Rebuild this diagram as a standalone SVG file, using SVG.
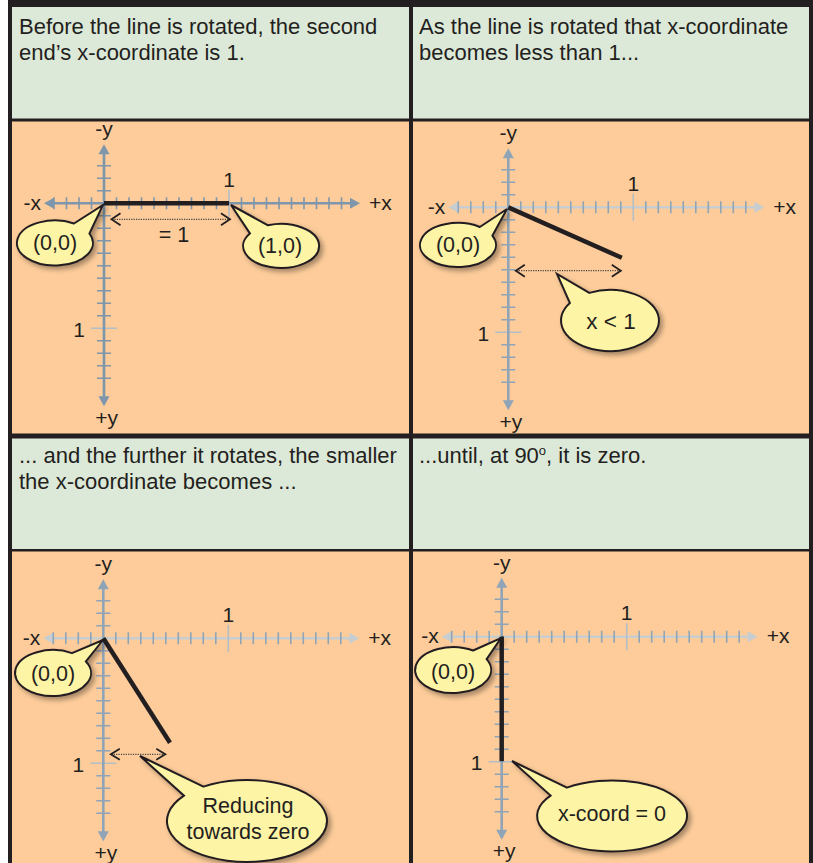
<svg xmlns="http://www.w3.org/2000/svg" xmlns:xlink="http://www.w3.org/1999/xlink" width="813" height="863" viewBox="0 0 813 863">
<style>
text{font-family:"Liberation Sans",Arial,sans-serif;fill:#231f20}
.hd{font-size:22px}
.ax{font-size:21px}
.cl{font-size:21.5px;text-anchor:middle}
.green{fill:#dde9d8}
.orange{fill:#fdcc9a}
.callout{fill:#fef4a6;stroke:#231f20;stroke-width:2;filter:url(#sh)}
.bar{stroke:#231f20;stroke-width:4.5;fill:none}
.dot{stroke:#444;stroke-width:1.2;stroke-dasharray:1.2 1.2;fill:none}
.chev{stroke:#231f20;stroke-width:1.8;fill:none}
.aA{stroke:#7e96ab;stroke-width:1.6;fill:none}
.aAline{stroke:#7e96ab;stroke-width:2.6;fill:none}
.aAhead{fill:#7e96ab}
.maj{stroke:#b3bec6;stroke-width:1.6;fill:none}
.xB{stroke:#c6ced1;stroke-width:2.6;fill:none}
.xBhead{fill:#c6ced1}
.tB{stroke:#8fa4b7;stroke-width:1.6;fill:none}
.yB{stroke:#8fa4b7;stroke-width:2.6;fill:none}
.yBhead{fill:#8fa4b7}
</style>
<defs>
<filter id="sh" x="-20%" y="-20%" width="150%" height="160%">
<feDropShadow dx="3" dy="3" stdDeviation="2.5" flood-color="#000" flood-opacity="0.35"/>
</filter>
<path id="xt" d="M-50,-6v12m12.5,-12v12m12.5,-12v12m12.5,-12v12m25,-12v12m12.5,-12v12m12.5,-12v12m12.5,-12v12m12.5,-12v12m12.5,-12v12m12.5,-12v12m12.5,-12v12m12.5,-12v12m25,-12v12m12.5,-12v12m12.5,-12v12m12.5,-12v12m12.5,-12v12m12.5,-12v12m12.5,-12v12m12.5,-12v12m12.5,-12v12"/>
<path id="yt" d="M-7,-37.5h14m-14,12.5h14m-14,12.5h14m-14,25h14m-14,12.5h14m-14,12.5h14m-14,12.5h14m-14,12.5h14m-14,12.5h14m-14,12.5h14m-14,12.5h14m-14,12.5h14m-14,25h14m-14,12.5h14m-14,12.5h14m-14,12.5h14"/>
<path id="mj" d="M125,-13.5v27M-13,125h26"/>
<path id="xl" d="M-51,0H247"/>
<path id="yl" d="M0,-50V194"/>
<path id="xh" d="M-60,0l10,-5.5v11zM256,0l-10,-5.5v11z"/>
<path id="yh" d="M0,-59l-5.5,10h11zM0,203l-5.5,-10h11z"/>
<g id="labels">
<text class="ax" x="0" y="-67" text-anchor="middle">-y</text>
<text class="ax" x="125" y="-16.5" text-anchor="middle">1</text>
<text class="ax" x="-63" y="6.5" text-anchor="end">-x</text>
<text class="ax" x="265" y="6.5">+x</text>
<text class="ax" x="-25" y="133.5" text-anchor="middle">1</text>
<text class="ax" x="2.5" y="221.5" text-anchor="middle">+y</text>
</g>
<g id="axesA">
<use href="#xt" class="aA"/>
<use href="#yt" class="aA"/>
<use href="#mj" class="maj"/>
<use href="#xl" class="aAline"/>
<use href="#yl" class="aAline"/>
<use href="#xh" class="aAhead"/>
<use href="#yh" class="aAhead"/>
<use href="#labels"/>
</g>
<g id="axesB">
<use href="#xl" class="xB"/>
<use href="#xh" class="xBhead"/>
<use href="#mj" class="maj"/>
<use href="#xt" class="tB"/>
<use href="#yt" class="tB"/>
<use href="#yl" class="yB"/>
<use href="#yh" class="yBhead"/>
<use href="#labels"/>
</g>
</defs>

<rect x="8" y="0" width="805" height="863" fill="#231f20"/>

<g id="panel1">
<rect class="green" x="12" y="7" width="397" height="111.5"/>
<rect class="orange" x="12" y="121.5" width="397" height="312"/>
<text class="hd" x="19" y="34">Before the line is rotated, the second</text>
<text class="hd" x="19" y="60">end’s x-coordinate is 1.</text>
<g transform="translate(104,203.3)">
<use href="#axesA"/>
<path class="bar" d="M0,0H125"/>
<path class="dot" d="M8,16H125"/>
<path class="chev" d="M16.5,10L7.5,16L16.5,22M117,10L126,16L117,22"/>
<text class="cl" x="70" y="38.5">= 1</text>
</g>
<g id="p1-origin">
<path class="callout" d="M74,223.5L103,205L89.4,233.5A38,22.5 0 1 1 74,223.5Z"/>
<text class="cl" x="55" y="250">(0,0)</text>
</g>
<g id="p1-end">
<path class="callout" d="M268,225.3L231,205L249.9,233.4A38,22 0 1 0 268,225.3Z"/>
<text class="cl" x="280" y="253">(1,0)</text>
</g>
</g>

<g id="panel2">
<rect class="green" x="413" y="7" width="396" height="111.5"/>
<rect class="orange" x="413" y="121.5" width="396" height="312"/>
<text class="hd" x="419" y="34">As the line is rotated that x-coordinate</text>
<text class="hd" x="419" y="60">becomes less than 1...</text>
<g transform="translate(508.3,207.3)">
<use href="#axesB"/>
<path class="bar" d="M0,0L113.5,50.5"/>
<path class="dot" d="M8,63.4H112"/>
<path class="chev" d="M16.5,57.4L7.5,63.4L16.5,69.4M103.5,57.4L112.5,63.4L103.5,69.4"/>
</g>
<g id="p2-origin">
<path class="callout" d="M479.8,227L507,209L492.4,235.7A38,22 0 1 1 479.8,227Z"/>
<text class="cl" x="458" y="252">(0,0)</text>
</g>
<g id="p2-xlt1">
<path class="callout" d="M589.3,292.9L557,274L569.9,303A49,30.5 0 1 0 589.3,292.9Z"/>
<text class="cl" x="611" y="328.5" style="font-size:22.5px">x &lt; 1</text>
</g>
</g>

<g id="panel3">
<rect class="green" x="12" y="438.5" width="397" height="110.5"/>
<rect class="orange" x="12" y="551.5" width="397" height="311.5"/>
<text class="hd" x="19" y="463">... and the further it rotates, the smaller</text>
<text class="hd" x="19" y="489">the x-coordinate becomes ...</text>
<g transform="translate(103.3,638.3)">
<use href="#axesB"/>
<path class="bar" d="M0,0L66.7,104.4"/>
<path class="dot" d="M8,116H61.5"/>
<path class="chev" d="M16.5,110.5L7.5,116L16.5,121.5M53,110.5L62,116L53,121.5"/>
</g>
<g id="p3-origin">
<path class="callout" d="M72,653.1L103,640L85.9,661.5A38,23 0 1 1 72,653.1Z"/>
<text class="cl" x="53" y="681">(0,0)</text>
</g>
<g id="p3-reducing">
<path class="callout" d="M203.4,786.6L140,756L184,795.7A80,41 0 1 0 203.4,786.6Z"/>
<text class="cl" x="248" y="813">Reducing</text>
<text class="cl" x="248" y="838.5">towards zero</text>
</g>
</g>

<g id="panel4">
<rect class="green" x="413" y="438.5" width="396" height="110.5"/>
<rect class="orange" x="413" y="551.5" width="396" height="311.5"/>
<text class="hd" x="419" y="463">...until, at 90<tspan font-size="13" dy="-8">o</tspan><tspan dy="8">, it is zero.</tspan></text>
<g transform="translate(501.7,636.7)">
<use href="#axesB"/>
<path class="bar" d="M0,0V124.5"/>
</g>
<g id="p4-origin">
<path class="callout" d="M473.1,650.5L501,638L486.6,659.2A38,23 0 1 1 473.1,650.5Z"/>
<text class="cl" x="453" y="679">(0,0)</text>
</g>
<g id="p4-xcoord">
<path class="callout" d="M566.9,787.6L512,761L550.6,795.6A75,35.5 0 1 0 566.9,787.6Z"/>
<text class="cl" x="612" y="820.5">x-coord = 0</text>
</g>
</g>
</svg>
